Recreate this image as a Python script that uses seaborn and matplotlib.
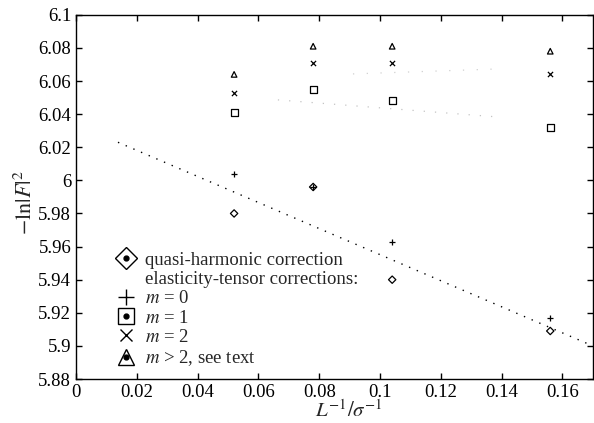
import pandas as pd
import seaborn as sns
import matplotlib.pyplot as plt
from matplotlib.lines import Line2D

# inverse system size L^-1 / sigma^-1
inv_L = [0.052, 0.078, 0.104, 0.156]

# -ln|F|^2 values
quasi_harmonic = [5.980, 5.996, 5.940, 5.909]
m0 = [6.004, 5.996, 5.963, 5.917]
m1 = [6.041, 6.055, 6.048, 6.032]
m2 = [6.053, 6.071, 6.071, 6.064]
m_gt2 = [6.064, 6.081, 6.081, 6.078]

# dotted fit lines (end points)
fit_x = [0.0138, 0.17]
fit_y = [6.023, 5.900]
faint1_x = [0.0664, 0.1387]
faint1_y = [6.0486, 6.0383]
faint2_x = [0.0911, 0.1404]
faint2_y = [6.0643, 6.0674]

xticks = [0, 0.02, 0.04, 0.06, 0.08, 0.1, 0.12, 0.14, 0.16]
yticks = [5.88, 5.9, 5.92, 5.94, 5.96, 5.98, 6.0, 6.02, 6.04, 6.06, 6.08, 6.1]

sns.set_style("ticks")
plt.rcParams['font.family'] = ['Liberation Serif', 'DejaVu Serif']
plt.rcParams['mathtext.fontset'] = 'stix'

fig = plt.figure(figsize=(5.94, 4.23), dpi=100)
ax = fig.add_axes([0.128, 0.104, 0.870, 0.861])

# lines
sns.lineplot(x=fit_x, y=fit_y, ax=ax, color='black', lw=1.0,
             linestyle=(0, (1, 5)))
sns.lineplot(x=faint1_x, y=faint1_y, ax=ax, color='#c4c4c4', lw=0.9,
             linestyle=(0, (1, 8)))
sns.lineplot(x=faint2_x, y=faint2_y, ax=ax, color='#d0d0d0', lw=0.9,
             linestyle=(0, (1, 10)))

# markers
kw = dict(ax=ax, facecolor='none', edgecolor='black', linewidth=0.9, zorder=3)
sns.scatterplot(x=inv_L, y=quasi_harmonic, marker='D', s=14, **kw)
sns.scatterplot(x=inv_L, y=m1, marker='s', s=24, **kw)
sns.scatterplot(x=inv_L, y=m_gt2, marker='^', s=16, **kw)
sns.scatterplot(x=inv_L, y=m0, marker='+', s=20, color='black', linewidth=0.9, ax=ax, zorder=3)
sns.scatterplot(x=inv_L, y=m2, marker='x', s=14, color='black', linewidth=0.9, ax=ax, zorder=3)

ax.set_xlim(0, 0.17)
ax.set_ylim(5.88, 6.1)
ax.set_xticks(xticks)
ax.set_xticklabels([f"{t:g}" for t in xticks])
ax.set_yticks(yticks)
ax.set_yticklabels([f"{t:g}" for t in yticks])
ax.tick_params(direction='in', length=4, width=1, top=True, right=True,
               labelsize=13.5, colors='black')
for sp in ax.spines.values():
    sp.set_visible(True)
    sp.set_linewidth(1.0)
    sp.set_color('black')

ax.set_xlabel(r'$L^{-1}/\sigma^{-1}$', fontsize=15)
ax.xaxis.set_label_coords(0.528, -0.058)
ax.set_ylabel(r'$-\ln|F|^2$', fontsize=16)
ax.yaxis.set_label_coords(-0.097, 0.484)
ax.yaxis.label.set_va('center')

# legend
def big(marker, size=12, mew=1.0):
    return Line2D([], [], linestyle='none', marker=marker, markersize=size,
                  markerfacecolor='none', markeredgecolor='black', markeredgewidth=mew)

dot = Line2D([], [], linestyle='none', marker='o', markersize=3.5, color='black')
handles = [
    (big('D', 11), dot),
    Line2D([], [], linestyle='none'),
    big('+', 11),
    (big('s', 11), dot),
    big('x', 8),
    (big('^', 12), dot),
]
labels = [
    'quasi-harmonic correction',
    'elasticity-tensor corrections:',
    r'$m$ = 0',
    r'$m$ = 1',
    r'$m$ = 2',
    r'$m$ > 2, see text',
]
ax.legend(handles, labels, loc='lower left', bbox_to_anchor=(0.054, -0.006),
          frameon=False, fontsize=13.5, handlelength=1.0, handletextpad=0.5,
          labelspacing=0.12, borderpad=0.2)

fig.savefig('out.png', dpi=100)
